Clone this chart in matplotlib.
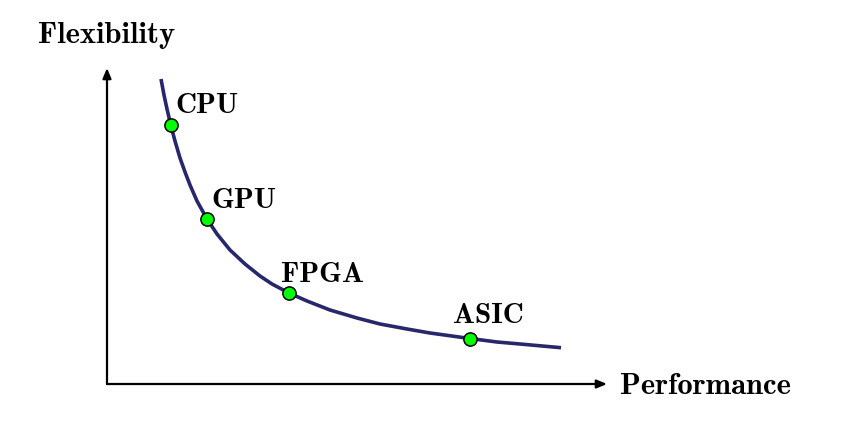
import matplotlib
matplotlib.use("Agg")
import matplotlib.pyplot as plt

# trade-off curve (performance, flexibility)
curve_x = [0.54, 0.57, 0.60, 0.64, 0.68, 0.73, 0.78, 0.83, 0.90, 1.00,
           1.10, 1.23, 1.38, 1.53, 1.65, 1.82, 2.00, 2.23, 2.50, 2.73,
           3.00, 3.23, 3.63, 3.90, 4.13, 4.54]
curve_y = [3.05, 2.89, 2.75, 2.58, 2.43, 2.26, 2.12, 1.99, 1.83, 1.65,
           1.50, 1.34, 1.20, 1.08, 1.00, 0.91, 0.83, 0.74, 0.66, 0.60,
           0.55, 0.51, 0.455, 0.42, 0.40, 0.363]

# the four devices
devices = ["CPU", "GPU", "FPGA", "ASIC"]
dev_x = [0.64, 1.00, 1.82, 3.63]
dev_y = [2.59, 1.65, 0.91, 0.455]

# label placement, offset in points from the marker to the text baseline start
label_offsets = [(3, 8.5), (3.5, 8), (-6, 8), (-12, 11.5)]

font = "cmb10"

fig = plt.figure(figsize=(8.47, 4.22), dpi=100)
ax = fig.add_axes([0, 0, 1, 1])
ax.set_xlim(-1.07, 7.40)
ax.set_ylim(-0.38, 3.84)
ax.axis("off")

# axes with arrows
arrow = dict(arrowstyle="-|>,head_length=0.6,head_width=0.25",
             lw=1.6, color="black", shrinkA=0, shrinkB=0)
ax.annotate("", xy=(5.0, 0), xytext=(0, 0), arrowprops=arrow)
ax.annotate("", xy=(0, 3.16), xytext=(0, 0), arrowprops=arrow)

ax.text(0, 3.41, "Flexibility", family=font, fontsize=22,
        ha="center", va="baseline")
ax.text(5.13, -0.10, "Performance", family=font, fontsize=22,
        ha="left", va="baseline")

ax.plot(curve_x, curve_y, color="#27276b", lw=2.6, solid_capstyle="butt", zorder=2)
ax.plot(dev_x, dev_y, "o", ms=9.5, mfc="#00ff00", mec="black", mew=1.1, zorder=3)

for name, x, y, off in zip(devices, dev_x, dev_y, label_offsets):
    ax.annotate(name, xy=(x, y), xytext=off, textcoords="offset points",
                family=font, fontsize=21, ha="left", va="baseline")

fig.savefig("out.png", dpi=100)
